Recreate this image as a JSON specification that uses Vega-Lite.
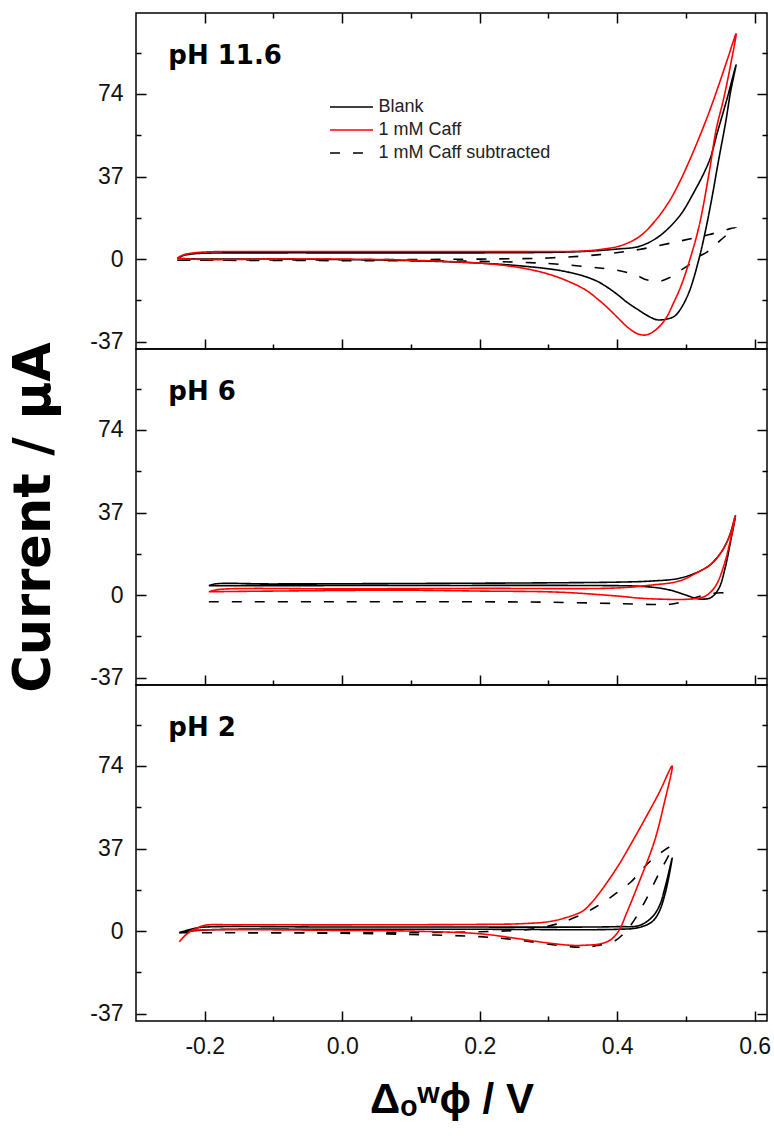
{
 "$schema": "https://vega.github.io/schema/vega-lite/v6.json",
 "padding": {"left": 8, "top": 11, "right": 0, "bottom": 0},
 "spacing": 0,
 "bounds": "flush",
 "datasets": {
  "cv": [
{"p":1,"s":"Blank","o":1,"x":-0.24,"y":0.3},{"p":1,"s":"Blank","o":2,"x":-0.232,"y":1.5},{"p":1,"s":"Blank","o":3,"x":-0.215,"y":2.4},{"p":1,"s":"Blank","o":4,"x":-0.19,"y":2.7},{"p":1,"s":"Blank","o":5,"x":-0.1,"y":2.8},{"p":1,"s":"Blank","o":6,"x":0,"y":2.8},{"p":1,"s":"Blank","o":7,"x":0.1,"y":2.8},{"p":1,"s":"Blank","o":8,"x":0.2,"y":2.8},{"p":1,"s":"Blank","o":9,"x":0.3,"y":3.0},{"p":1,"s":"Blank","o":10,"x":0.35,"y":3.4},{"p":1,"s":"Blank","o":11,"x":0.4,"y":4.5},{"p":1,"s":"Blank","o":12,"x":0.432,"y":5.7},{"p":1,"s":"Blank","o":13,"x":0.46,"y":10},{"p":1,"s":"Blank","o":14,"x":0.49,"y":19},{"p":1,"s":"Blank","o":15,"x":0.51,"y":29},{"p":1,"s":"Blank","o":16,"x":0.534,"y":44},{"p":1,"s":"Blank","o":17,"x":0.546,"y":57},{"p":1,"s":"Blank","o":18,"x":0.56,"y":72},{"p":1,"s":"Blank","o":19,"x":0.573,"y":87},{"p":1,"s":"Blank","o":20,"x":0.565,"y":75},{"p":1,"s":"Blank","o":21,"x":0.558,"y":61.6},{"p":1,"s":"Blank","o":22,"x":0.548,"y":45},{"p":1,"s":"Blank","o":23,"x":0.537,"y":26},{"p":1,"s":"Blank","o":24,"x":0.528,"y":12},{"p":1,"s":"Blank","o":25,"x":0.519,"y":0},{"p":1,"s":"Blank","o":26,"x":0.505,"y":-14.5},{"p":1,"s":"Blank","o":27,"x":0.493,"y":-22},{"p":1,"s":"Blank","o":28,"x":0.483,"y":-25.7},{"p":1,"s":"Blank","o":29,"x":0.47,"y":-27},{"p":1,"s":"Blank","o":30,"x":0.458,"y":-27.2},{"p":1,"s":"Blank","o":31,"x":0.445,"y":-25.5},{"p":1,"s":"Blank","o":32,"x":0.432,"y":-23},{"p":1,"s":"Blank","o":33,"x":0.415,"y":-19.5},{"p":1,"s":"Blank","o":34,"x":0.4,"y":-15.8},{"p":1,"s":"Blank","o":35,"x":0.385,"y":-12.5},{"p":1,"s":"Blank","o":36,"x":0.37,"y":-9.8},{"p":1,"s":"Blank","o":37,"x":0.35,"y":-7.5},{"p":1,"s":"Blank","o":38,"x":0.32,"y":-5.3},{"p":1,"s":"Blank","o":39,"x":0.296,"y":-4.2},{"p":1,"s":"Blank","o":40,"x":0.25,"y":-2.8},{"p":1,"s":"Blank","o":41,"x":0.2,"y":-1.8},{"p":1,"s":"Blank","o":42,"x":0.1,"y":-0.7},{"p":1,"s":"Blank","o":43,"x":0,"y":-0.2},{"p":1,"s":"Blank","o":44,"x":-0.1,"y":0},{"p":1,"s":"Blank","o":45,"x":-0.2,"y":0},{"p":1,"s":"Blank","o":46,"x":-0.24,"y":0.3},
{"p":1,"s":"1 mM Caff subtracted","o":1,"x":-0.24,"y":-0.5},{"p":1,"s":"1 mM Caff subtracted","o":2,"x":0,"y":-0.3},{"p":1,"s":"1 mM Caff subtracted","o":3,"x":0.2,"y":0},{"p":1,"s":"1 mM Caff subtracted","o":4,"x":0.3,"y":0.5},{"p":1,"s":"1 mM Caff subtracted","o":5,"x":0.374,"y":2},{"p":1,"s":"1 mM Caff subtracted","o":6,"x":0.432,"y":4.3},{"p":1,"s":"1 mM Caff subtracted","o":7,"x":0.49,"y":8},{"p":1,"s":"1 mM Caff subtracted","o":8,"x":0.534,"y":11},{"p":1,"s":"1 mM Caff subtracted","o":9,"x":0.573,"y":14},{"p":1,"s":"1 mM Caff subtracted","o":10,"x":0.56,"y":11},{"p":1,"s":"1 mM Caff subtracted","o":11,"x":0.545,"y":7},{"p":1,"s":"1 mM Caff subtracted","o":12,"x":0.53,"y":3},{"p":1,"s":"1 mM Caff subtracted","o":13,"x":0.519,"y":1.2},{"p":1,"s":"1 mM Caff subtracted","o":14,"x":0.505,"y":-2.5},{"p":1,"s":"1 mM Caff subtracted","o":15,"x":0.49,"y":-5.5},{"p":1,"s":"1 mM Caff subtracted","o":16,"x":0.475,"y":-8.5},{"p":1,"s":"1 mM Caff subtracted","o":17,"x":0.461,"y":-10},{"p":1,"s":"1 mM Caff subtracted","o":18,"x":0.45,"y":-9.7},{"p":1,"s":"1 mM Caff subtracted","o":19,"x":0.44,"y":-9},{"p":1,"s":"1 mM Caff subtracted","o":20,"x":0.43,"y":-7.5},{"p":1,"s":"1 mM Caff subtracted","o":21,"x":0.418,"y":-6.3},{"p":1,"s":"1 mM Caff subtracted","o":22,"x":0.4,"y":-5},{"p":1,"s":"1 mM Caff subtracted","o":23,"x":0.374,"y":-4},{"p":1,"s":"1 mM Caff subtracted","o":24,"x":0.3,"y":-2},{"p":1,"s":"1 mM Caff subtracted","o":25,"x":0.2,"y":-1},{"p":1,"s":"1 mM Caff subtracted","o":26,"x":0,"y":-0.7},{"p":1,"s":"1 mM Caff subtracted","o":27,"x":-0.24,"y":-0.5},
{"p":1,"s":"1 mM Caff","o":1,"x":-0.24,"y":0.3},{"p":1,"s":"1 mM Caff","o":2,"x":-0.232,"y":1.8},{"p":1,"s":"1 mM Caff","o":3,"x":-0.215,"y":2.8},{"p":1,"s":"1 mM Caff","o":4,"x":-0.19,"y":3.3},{"p":1,"s":"1 mM Caff","o":5,"x":-0.1,"y":3.4},{"p":1,"s":"1 mM Caff","o":6,"x":0.1,"y":3.4},{"p":1,"s":"1 mM Caff","o":7,"x":0.3,"y":3.4},{"p":1,"s":"1 mM Caff","o":8,"x":0.35,"y":3.6},{"p":1,"s":"1 mM Caff","o":9,"x":0.38,"y":4.5},{"p":1,"s":"1 mM Caff","o":10,"x":0.405,"y":6},{"p":1,"s":"1 mM Caff","o":11,"x":0.432,"y":10},{"p":1,"s":"1 mM Caff","o":12,"x":0.455,"y":17},{"p":1,"s":"1 mM Caff","o":13,"x":0.476,"y":26},{"p":1,"s":"1 mM Caff","o":14,"x":0.49,"y":34},{"p":1,"s":"1 mM Caff","o":15,"x":0.505,"y":44},{"p":1,"s":"1 mM Caff","o":16,"x":0.52,"y":55},{"p":1,"s":"1 mM Caff","o":17,"x":0.534,"y":66},{"p":1,"s":"1 mM Caff","o":18,"x":0.55,"y":80},{"p":1,"s":"1 mM Caff","o":19,"x":0.562,"y":91},{"p":1,"s":"1 mM Caff","o":20,"x":0.573,"y":101},{"p":1,"s":"1 mM Caff","o":21,"x":0.565,"y":87},{"p":1,"s":"1 mM Caff","o":22,"x":0.555,"y":72},{"p":1,"s":"1 mM Caff","o":23,"x":0.544,"y":58},{"p":1,"s":"1 mM Caff","o":24,"x":0.534,"y":39},{"p":1,"s":"1 mM Caff","o":25,"x":0.519,"y":14.5},{"p":1,"s":"1 mM Caff","o":26,"x":0.505,"y":-1},{"p":1,"s":"1 mM Caff","o":27,"x":0.493,"y":-12},{"p":1,"s":"1 mM Caff","o":28,"x":0.483,"y":-19},{"p":1,"s":"1 mM Caff","o":29,"x":0.47,"y":-27},{"p":1,"s":"1 mM Caff","o":30,"x":0.455,"y":-32},{"p":1,"s":"1 mM Caff","o":31,"x":0.442,"y":-34},{"p":1,"s":"1 mM Caff","o":32,"x":0.43,"y":-33.5},{"p":1,"s":"1 mM Caff","o":33,"x":0.415,"y":-30.5},{"p":1,"s":"1 mM Caff","o":34,"x":0.4,"y":-26},{"p":1,"s":"1 mM Caff","o":35,"x":0.385,"y":-21.5},{"p":1,"s":"1 mM Caff","o":36,"x":0.37,"y":-17.5},{"p":1,"s":"1 mM Caff","o":37,"x":0.355,"y":-14},{"p":1,"s":"1 mM Caff","o":38,"x":0.335,"y":-10.8},{"p":1,"s":"1 mM Caff","o":39,"x":0.306,"y":-7.3},{"p":1,"s":"1 mM Caff","o":40,"x":0.272,"y":-4.6},{"p":1,"s":"1 mM Caff","o":41,"x":0.24,"y":-3},{"p":1,"s":"1 mM Caff","o":42,"x":0.2,"y":-1.8},{"p":1,"s":"1 mM Caff","o":43,"x":0.1,"y":-0.5},{"p":1,"s":"1 mM Caff","o":44,"x":0,"y":0},{"p":1,"s":"1 mM Caff","o":45,"x":-0.1,"y":0},{"p":1,"s":"1 mM Caff","o":46,"x":-0.2,"y":-0.2},{"p":1,"s":"1 mM Caff","o":47,"x":-0.24,"y":0.3},

{"p":2,"s":"Blank","o":1,"x":-0.194,"y":4.2},{"p":2,"s":"Blank","o":2,"x":-0.185,"y":5},{"p":2,"s":"Blank","o":3,"x":-0.1,"y":5},{"p":2,"s":"Blank","o":4,"x":0.1,"y":5.2},{"p":2,"s":"Blank","o":5,"x":0.3,"y":5.5},{"p":2,"s":"Blank","o":6,"x":0.4,"y":5.8},{"p":2,"s":"Blank","o":7,"x":0.45,"y":6.3},{"p":2,"s":"Blank","o":8,"x":0.49,"y":7.5},{"p":2,"s":"Blank","o":9,"x":0.52,"y":10.7},{"p":2,"s":"Blank","o":10,"x":0.537,"y":14},{"p":2,"s":"Blank","o":11,"x":0.553,"y":20},{"p":2,"s":"Blank","o":12,"x":0.564,"y":27},{"p":2,"s":"Blank","o":13,"x":0.572,"y":35.5},{"p":2,"s":"Blank","o":14,"x":0.565,"y":24},{"p":2,"s":"Blank","o":15,"x":0.557,"y":12},{"p":2,"s":"Blank","o":16,"x":0.548,"y":3},{"p":2,"s":"Blank","o":17,"x":0.537,"y":-1},{"p":2,"s":"Blank","o":18,"x":0.527,"y":-1.8},{"p":2,"s":"Blank","o":19,"x":0.515,"y":-1.5},{"p":2,"s":"Blank","o":20,"x":0.5,"y":0},{"p":2,"s":"Blank","o":21,"x":0.48,"y":2},{"p":2,"s":"Blank","o":22,"x":0.46,"y":3.2},{"p":2,"s":"Blank","o":23,"x":0.43,"y":4},{"p":2,"s":"Blank","o":24,"x":0.35,"y":4.3},{"p":2,"s":"Blank","o":25,"x":0.1,"y":4.3},{"p":2,"s":"Blank","o":26,"x":-0.194,"y":4.2},
{"p":2,"s":"1 mM Caff subtracted","o":1,"x":-0.194,"y":-3},{"p":2,"s":"1 mM Caff subtracted","o":2,"x":0,"y":-3},{"p":2,"s":"1 mM Caff subtracted","o":3,"x":0.2,"y":-3},{"p":2,"s":"1 mM Caff subtracted","o":4,"x":0.3,"y":-3.2},{"p":2,"s":"1 mM Caff subtracted","o":5,"x":0.4,"y":-3.8},{"p":2,"s":"1 mM Caff subtracted","o":6,"x":0.45,"y":-4.2},{"p":2,"s":"1 mM Caff subtracted","o":7,"x":0.48,"y":-4},{"p":2,"s":"1 mM Caff subtracted","o":8,"x":0.5,"y":-2.5},{"p":2,"s":"1 mM Caff subtracted","o":9,"x":0.52,"y":-0.5},{"p":2,"s":"1 mM Caff subtracted","o":10,"x":0.54,"y":0.8},{"p":2,"s":"1 mM Caff subtracted","o":11,"x":0.555,"y":1},{"p":2,"s":"1 mM Caff subtracted","o":12,"x":0.565,"y":0.5},
{"p":2,"s":"1 mM Caff","o":1,"x":-0.194,"y":1.5},{"p":2,"s":"1 mM Caff","o":2,"x":-0.18,"y":2.5},{"p":2,"s":"1 mM Caff","o":3,"x":0,"y":2.8},{"p":2,"s":"1 mM Caff","o":4,"x":0.2,"y":3},{"p":2,"s":"1 mM Caff","o":5,"x":0.4,"y":3.2},{"p":2,"s":"1 mM Caff","o":6,"x":0.45,"y":4.5},{"p":2,"s":"1 mM Caff","o":7,"x":0.49,"y":6.3},{"p":2,"s":"1 mM Caff","o":8,"x":0.52,"y":10.7},{"p":2,"s":"1 mM Caff","o":9,"x":0.537,"y":14},{"p":2,"s":"1 mM Caff","o":10,"x":0.553,"y":20},{"p":2,"s":"1 mM Caff","o":11,"x":0.564,"y":27},{"p":2,"s":"1 mM Caff","o":12,"x":0.572,"y":35.5},{"p":2,"s":"1 mM Caff","o":13,"x":0.565,"y":25},{"p":2,"s":"1 mM Caff","o":14,"x":0.555,"y":13},{"p":2,"s":"1 mM Caff","o":15,"x":0.543,"y":4},{"p":2,"s":"1 mM Caff","o":16,"x":0.528,"y":-0.5},{"p":2,"s":"1 mM Caff","o":17,"x":0.505,"y":-1.8},{"p":2,"s":"1 mM Caff","o":18,"x":0.461,"y":-1.8},{"p":2,"s":"1 mM Caff","o":19,"x":0.43,"y":-1.3},{"p":2,"s":"1 mM Caff","o":20,"x":0.403,"y":-0.5},{"p":2,"s":"1 mM Caff","o":21,"x":0.316,"y":1.3},{"p":2,"s":"1 mM Caff","o":22,"x":0.2,"y":1.8},{"p":2,"s":"1 mM Caff","o":23,"x":0.083,"y":2.2},{"p":2,"s":"1 mM Caff","o":24,"x":-0.1,"y":1.8},{"p":2,"s":"1 mM Caff","o":25,"x":-0.194,"y":1.5},

{"p":3,"s":"Blank","o":1,"x":-0.237,"y":-0.7},{"p":3,"s":"Blank","o":2,"x":-0.215,"y":1.2},{"p":3,"s":"Blank","o":3,"x":-0.2,"y":1.8},{"p":3,"s":"Blank","o":4,"x":0,"y":1.8},{"p":3,"s":"Blank","o":5,"x":0.2,"y":1.8},{"p":3,"s":"Blank","o":6,"x":0.35,"y":1.8},{"p":3,"s":"Blank","o":7,"x":0.4,"y":2},{"p":3,"s":"Blank","o":8,"x":0.432,"y":2.5},{"p":3,"s":"Blank","o":9,"x":0.45,"y":6},{"p":3,"s":"Blank","o":10,"x":0.461,"y":11},{"p":3,"s":"Blank","o":11,"x":0.47,"y":20},{"p":3,"s":"Blank","o":12,"x":0.48,"y":32.7},{"p":3,"s":"Blank","o":13,"x":0.47,"y":17},{"p":3,"s":"Blank","o":14,"x":0.46,"y":8},{"p":3,"s":"Blank","o":15,"x":0.45,"y":4},{"p":3,"s":"Blank","o":16,"x":0.43,"y":1.5},{"p":3,"s":"Blank","o":17,"x":0.4,"y":0.8},{"p":3,"s":"Blank","o":18,"x":0.2,"y":0.8},{"p":3,"s":"Blank","o":19,"x":0,"y":0.8},{"p":3,"s":"Blank","o":20,"x":-0.2,"y":0.5},{"p":3,"s":"Blank","o":21,"x":-0.237,"y":-0.7},
{"p":3,"s":"1 mM Caff subtracted","o":1,"x":-0.237,"y":-0.7},{"p":3,"s":"1 mM Caff subtracted","o":2,"x":0,"y":-0.7},{"p":3,"s":"1 mM Caff subtracted","o":3,"x":0.2,"y":-0.3},{"p":3,"s":"1 mM Caff subtracted","o":4,"x":0.28,"y":1},{"p":3,"s":"1 mM Caff subtracted","o":5,"x":0.31,"y":3},{"p":3,"s":"1 mM Caff subtracted","o":6,"x":0.325,"y":4.5},{"p":3,"s":"1 mM Caff subtracted","o":7,"x":0.35,"y":7.6},{"p":3,"s":"1 mM Caff subtracted","o":8,"x":0.37,"y":11},{"p":3,"s":"1 mM Caff subtracted","o":9,"x":0.39,"y":15},{"p":3,"s":"1 mM Caff subtracted","o":10,"x":0.403,"y":18},{"p":3,"s":"1 mM Caff subtracted","o":11,"x":0.42,"y":22},{"p":3,"s":"1 mM Caff subtracted","o":12,"x":0.447,"y":31},{"p":3,"s":"1 mM Caff subtracted","o":13,"x":0.48,"y":38},{"p":3,"s":"1 mM Caff subtracted","o":14,"x":0.47,"y":31},{"p":3,"s":"1 mM Caff subtracted","o":15,"x":0.461,"y":26},{"p":3,"s":"1 mM Caff subtracted","o":16,"x":0.44,"y":13},{"p":3,"s":"1 mM Caff subtracted","o":17,"x":0.418,"y":2},{"p":3,"s":"1 mM Caff subtracted","o":18,"x":0.396,"y":-4.5},{"p":3,"s":"1 mM Caff subtracted","o":19,"x":0.37,"y":-6.5},{"p":3,"s":"1 mM Caff subtracted","o":20,"x":0.355,"y":-7.2},{"p":3,"s":"1 mM Caff subtracted","o":21,"x":0.325,"y":-6.8},{"p":3,"s":"1 mM Caff subtracted","o":22,"x":0.247,"y":-3.7},{"p":3,"s":"1 mM Caff subtracted","o":23,"x":0.2,"y":-2.5},{"p":3,"s":"1 mM Caff subtracted","o":24,"x":0.1,"y":-1.5},{"p":3,"s":"1 mM Caff subtracted","o":25,"x":0,"y":-1},{"p":3,"s":"1 mM Caff subtracted","o":26,"x":-0.237,"y":-0.7},
{"p":3,"s":"1 mM Caff","o":1,"x":-0.237,"y":-4.8},{"p":3,"s":"1 mM Caff","o":2,"x":-0.225,"y":-1},{"p":3,"s":"1 mM Caff","o":3,"x":-0.21,"y":1.5},{"p":3,"s":"1 mM Caff","o":4,"x":-0.2,"y":2.6},{"p":3,"s":"1 mM Caff","o":5,"x":-0.15,"y":2.8},{"p":3,"s":"1 mM Caff","o":6,"x":0,"y":2.8},{"p":3,"s":"1 mM Caff","o":7,"x":0.2,"y":3},{"p":3,"s":"1 mM Caff","o":8,"x":0.26,"y":3.3},{"p":3,"s":"1 mM Caff","o":9,"x":0.3,"y":4.2},{"p":3,"s":"1 mM Caff","o":10,"x":0.325,"y":6},{"p":3,"s":"1 mM Caff","o":11,"x":0.35,"y":9},{"p":3,"s":"1 mM Caff","o":12,"x":0.362,"y":12.5},{"p":3,"s":"1 mM Caff","o":13,"x":0.374,"y":17},{"p":3,"s":"1 mM Caff","o":14,"x":0.388,"y":23},{"p":3,"s":"1 mM Caff","o":15,"x":0.403,"y":30},{"p":3,"s":"1 mM Caff","o":16,"x":0.42,"y":39},{"p":3,"s":"1 mM Caff","o":17,"x":0.44,"y":50},{"p":3,"s":"1 mM Caff","o":18,"x":0.461,"y":62},{"p":3,"s":"1 mM Caff","o":19,"x":0.48,"y":74},{"p":3,"s":"1 mM Caff","o":20,"x":0.469,"y":58},{"p":3,"s":"1 mM Caff","o":21,"x":0.454,"y":40},{"p":3,"s":"1 mM Caff","o":22,"x":0.432,"y":22},{"p":3,"s":"1 mM Caff","o":23,"x":0.415,"y":9},{"p":3,"s":"1 mM Caff","o":24,"x":0.402,"y":0},{"p":3,"s":"1 mM Caff","o":25,"x":0.39,"y":-4},{"p":3,"s":"1 mM Caff","o":26,"x":0.374,"y":-5.8},{"p":3,"s":"1 mM Caff","o":27,"x":0.355,"y":-6.3},{"p":3,"s":"1 mM Caff","o":28,"x":0.335,"y":-6.4},{"p":3,"s":"1 mM Caff","o":29,"x":0.296,"y":-5.2},{"p":3,"s":"1 mM Caff","o":30,"x":0.247,"y":-3},{"p":3,"s":"1 mM Caff","o":31,"x":0.2,"y":-1.2},{"p":3,"s":"1 mM Caff","o":32,"x":0.1,"y":0},{"p":3,"s":"1 mM Caff","o":33,"x":0,"y":0.3},{"p":3,"s":"1 mM Caff","o":34,"x":-0.2,"y":0.5},{"p":3,"s":"1 mM Caff","o":35,"x":-0.22,"y":0},{"p":3,"s":"1 mM Caff","o":36,"x":-0.237,"y":-4.8}
  ],
  "lab": [
   {"p":1,"t":"pH 11.6","x":-0.253,"y":91},
   {"p":2,"t":"pH 6","x":-0.253,"y":91},
   {"p":3,"t":"pH 2","x":-0.253,"y":91}
  ]
 },
 "resolve": {"scale": {"color": "independent", "strokeDash": "independent"}},
 "vconcat": [
  {
   "width": 631, "height": 336,
   "resolve": {"axis": {"x": "independent", "y": "independent"}},
   "layer": [
    {
     "data": {"name": "cv"},
     "transform": [{"filter": "datum.p === 1"}],
     "mark": {"type": "line", "strokeWidth": 1.6, "interpolate": "catmull-rom"},
     "encoding": {
      "x": {"field": "x", "type": "quantitative", "scale": {"domain": [-0.3, 0.618], "nice": false, "zero": false},
            "axis": {"orient": "bottom", "title": null, "labels": false, "values": [-0.2,-0.1,0,0.1,0.2,0.3,0.4,0.5,0.6],
                     "tickSize": {"condition": {"test": "round(datum.value*10) % 2 === 0", "value": -10}, "value": -5}}},
      "y": {"field": "y", "type": "quantitative", "scale": {"domain": [-40.3, 110.3], "nice": false, "zero": false},
            "axis": {"orient": "left", "title": null, "values": [-37,-18.5,0,18.5,37,55.5,74,92.5],
                     "tickSize": {"condition": {"test": "datum.value % 37 === 0", "value": -10}, "value": -5},
                     "labelExpr": "datum.value % 37 === 0 ? replace(format(datum.value, 'd'), '−', '-') : ''",
                     "labelPadding": 23}},
      "order": {"field": "o", "type": "quantitative"},
      "color": {"field": "s", "type": "nominal",
                "scale": {"domain": ["Blank", "1 mM Caff", "1 mM Caff subtracted"], "range": ["#000000", "#ff0000", "#000000"]},
                "legend": {"title": null, "orient": "none", "legendX": 203.5, "legendY": 82, "labelFontSize": 18, "labelFont": "Liberation Sans", "labelColor": "#222222", "labelLimit": 0, "symbolType": "M-2,0H2", "symbolSize": 462, "symbolStrokeWidth": 1.6, "rowPadding": 2, "labelOffset": 15, "padding": 0}},
      "strokeDash": {"field": "s", "type": "nominal",
                "scale": {"domain": ["Blank", "1 mM Caff", "1 mM Caff subtracted"], "range": [[1,0],[1,0],[10,13]]},
                "legend": {"title": null, "orient": "none", "legendX": 203.5, "legendY": 82, "labelFontSize": 18, "labelFont": "Liberation Sans", "labelColor": "#222222", "labelLimit": 0, "symbolType": "M-2,0H2", "symbolSize": 462, "symbolStrokeWidth": 1.6, "rowPadding": 2, "labelOffset": 15, "padding": 0}}
     }
    },
    {
     "data": {"name": "lab"},
     "transform": [{"filter": "datum.p === 1"}],
     "mark": {"type": "text", "align": "left", "baseline": "middle", "fontSize": 26, "fontWeight": "bold", "font": "DejaVu Sans", "color": "black"},
     "encoding": {
      "x": {"field": "x", "type": "quantitative", "scale": {"domain": [-0.3, 0.618], "nice": false, "zero": false},
            "axis": {"orient": "top", "title": null, "labels": false, "values": [-0.2,-0.1,0,0.1,0.2,0.3,0.4,0.5,0.6],
                     "tickSize": {"condition": {"test": "round(datum.value*10) % 2 === 0", "value": -10}, "value": -5}}},
      "y": {"field": "y", "type": "quantitative", "scale": {"domain": [-40.3, 110.3], "nice": false, "zero": false},
            "axis": {"orient": "right", "title": null, "labels": false, "values": [-37,-18.5,0,18.5,37,55.5,74,92.5],
                     "tickSize": {"condition": {"test": "datum.value % 37 === 0", "value": -10}, "value": -5}}},
      "text": {"field": "t", "type": "nominal"}
     }
    }
   ]
  },
  {
   "width": 631, "height": 336,
   "resolve": {"axis": {"x": "independent", "y": "independent"}},
   "layer": [
    {
     "data": {"name": "cv"},
     "transform": [{"filter": "datum.p === 2"}],
     "mark": {"type": "line", "strokeWidth": 1.6, "interpolate": "catmull-rom"},
     "encoding": {
      "x": {"field": "x", "type": "quantitative", "scale": {"domain": [-0.3, 0.618], "nice": false, "zero": false},
            "axis": {"orient": "bottom", "title": null, "labels": false, "values": [-0.2,-0.1,0,0.1,0.2,0.3,0.4,0.5,0.6],
                     "tickSize": {"condition": {"test": "round(datum.value*10) % 2 === 0", "value": -10}, "value": -5}}},
      "y": {"field": "y", "type": "quantitative", "scale": {"domain": [-40.3, 110.3], "nice": false, "zero": false},
            "axis": {"orient": "left", "title": "Current / μA", "titleFontSize": 51, "titleFontWeight": "bold", "titleFont": "DejaVu Sans", "titlePadding": 29, "titleColor": "black",
                     "values": [-37,-18.5,0,18.5,37,55.5,74,92.5],
                     "tickSize": {"condition": {"test": "datum.value % 37 === 0", "value": -10}, "value": -5},
                     "labelExpr": "datum.value % 37 === 0 ? replace(format(datum.value, 'd'), '−', '-') : ''",
                     "labelPadding": 23}},
      "order": {"field": "o", "type": "quantitative"},
      "color": {"field": "s", "type": "nominal",
                "scale": {"domain": ["Blank", "1 mM Caff", "1 mM Caff subtracted"], "range": ["#000000", "#ff0000", "#000000"]}, "legend": null},
      "strokeDash": {"field": "s", "type": "nominal",
                "scale": {"domain": ["Blank", "1 mM Caff", "1 mM Caff subtracted"], "range": [[1,0],[1,0],[10,13]]}, "legend": null}
     }
    },
    {
     "data": {"name": "lab"},
     "transform": [{"filter": "datum.p === 2"}],
     "mark": {"type": "text", "align": "left", "baseline": "middle", "fontSize": 26, "fontWeight": "bold", "font": "DejaVu Sans", "color": "black"},
     "encoding": {
      "x": {"field": "x", "type": "quantitative", "scale": {"domain": [-0.3, 0.618], "nice": false, "zero": false}, "axis": null},
      "y": {"field": "y", "type": "quantitative", "scale": {"domain": [-40.3, 110.3], "nice": false, "zero": false},
            "axis": {"orient": "right", "title": null, "labels": false, "values": [-37,-18.5,0,18.5,37,55.5,74,92.5],
                     "tickSize": {"condition": {"test": "datum.value % 37 === 0", "value": -10}, "value": -5}}},
      "text": {"field": "t", "type": "nominal"}
     }
    }
   ]
  },
  {
   "width": 631, "height": 336,
   "resolve": {"axis": {"x": "independent", "y": "independent"}},
   "layer": [
    {
     "data": {"name": "cv"},
     "transform": [{"filter": "datum.p === 3"}],
     "mark": {"type": "line", "strokeWidth": 1.6, "interpolate": "catmull-rom"},
     "encoding": {
      "x": {"field": "x", "type": "quantitative", "scale": {"domain": [-0.3, 0.618], "nice": false, "zero": false},
            "axis": {"orient": "bottom", "title": "Δₒʷϕ / V", "titleFontSize": 42, "titleFontWeight": "bold", "titleFont": "Liberation Sans", "titleColor": "black", "titlePadding": 21,
                     "values": [-0.2,-0.1,0,0.1,0.2,0.3,0.4,0.5,0.6],
                     "tickSize": {"condition": {"test": "round(datum.value*10) % 2 === 0", "value": -10}, "value": -5},
                     "labelExpr": "round(datum.value*10) % 2 === 0 ? replace(format(datum.value, '.1f'), '−', '-') : ''",
                     "labelPadding": 24}},
      "y": {"field": "y", "type": "quantitative", "scale": {"domain": [-40.3, 110.3], "nice": false, "zero": false},
            "axis": {"orient": "left", "title": null, "values": [-37,-18.5,0,18.5,37,55.5,74,92.5],
                     "tickSize": {"condition": {"test": "datum.value % 37 === 0", "value": -10}, "value": -5},
                     "labelExpr": "datum.value % 37 === 0 ? replace(format(datum.value, 'd'), '−', '-') : ''",
                     "labelPadding": 23}},
      "order": {"field": "o", "type": "quantitative"},
      "color": {"field": "s", "type": "nominal",
                "scale": {"domain": ["Blank", "1 mM Caff", "1 mM Caff subtracted"], "range": ["#000000", "#ff0000", "#000000"]}, "legend": null},
      "strokeDash": {"field": "s", "type": "nominal",
                "scale": {"domain": ["Blank", "1 mM Caff", "1 mM Caff subtracted"], "range": [[1,0],[1,0],[10,13]]}, "legend": null}
     }
    },
    {
     "data": {"name": "lab"},
     "transform": [{"filter": "datum.p === 3"}],
     "mark": {"type": "text", "align": "left", "baseline": "middle", "fontSize": 26, "fontWeight": "bold", "font": "DejaVu Sans", "color": "black"},
     "encoding": {
      "x": {"field": "x", "type": "quantitative", "scale": {"domain": [-0.3, 0.618], "nice": false, "zero": false}, "axis": null},
      "y": {"field": "y", "type": "quantitative", "scale": {"domain": [-40.3, 110.3], "nice": false, "zero": false},
            "axis": {"orient": "right", "title": null, "labels": false, "values": [-37,-18.5,0,18.5,37,55.5,74,92.5],
                     "tickSize": {"condition": {"test": "datum.value % 37 === 0", "value": -10}, "value": -5}}},
      "text": {"field": "t", "type": "nominal"}
     }
    }
   ]
  }
 ],
 "config": {
  "font": "Liberation Sans",
  "view": {"stroke": "#000000", "strokeWidth": 1.5},
  "axis": {"domain": false, "grid": false, "labelFont": "Liberation Sans", "labelFontSize": 23, "labelColor": "#111111", "tickColor": "#000000", "tickWidth": 1.5, "titleFont": "Liberation Sans", "titleColor": "#000000"}
 }
}
